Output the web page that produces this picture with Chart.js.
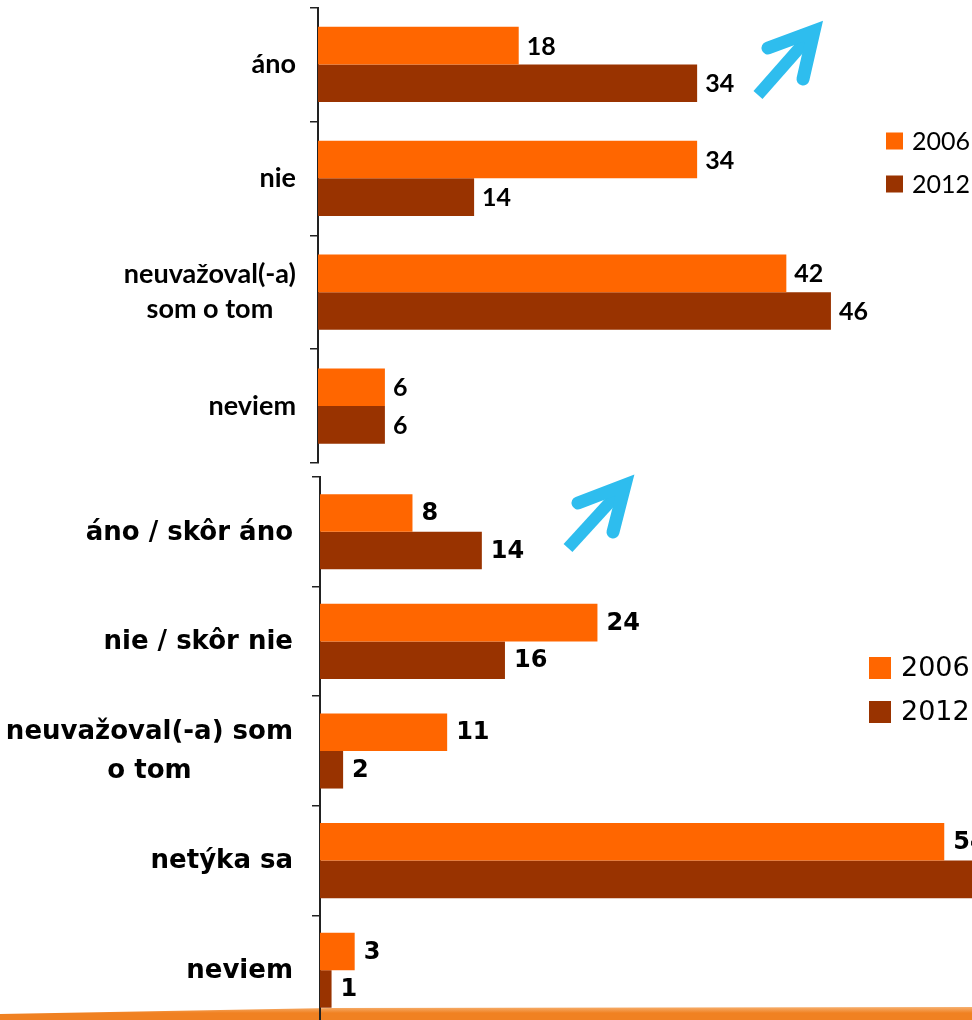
<!DOCTYPE html>
<html><head><meta charset="utf-8">
<script src="https://cdn.jsdelivr.net/npm/chart.js@4"></script>
<style>
html,body{margin:0;padding:0;background:#fff;}
#wrap{position:relative;width:972px;height:1020px;overflow:hidden;background:#fff;}
#c1{position:absolute;left:0;top:0;}
#c2{position:absolute;left:0;top:470px;}
</style></head><body>
<div id="wrap">
  <canvas id="c1" width="972" height="470"></canvas>
  <canvas id="c2" width="972" height="560"></canvas>
</div>
<script>
/* ===== data ===== */
const SERIES=["2006","2012"];
const topCats=[["áno"],["nie"],["neuvažoval(-a)","som o tom"],["neviem"]];
const top2006=[18,34,42,6];
const top2012=[34,14,46,6];
const botCats=[["áno / skôr áno"],["nie / skôr nie"],["neuvažoval(-a) som","o tom"],["netýka sa"],["neviem"]];
const bot2006=[8,24,11,54,3];
const bot2012=[14,16,2,67,1];

const ORANGE="#FF6600", BROWN="#993300", BLUE="#2EBDEE";

/* ===== plugins ===== */
const deco={
  id:"deco",
  beforeDraw(ch,a,o){
    if(!o.swoosh) return;
    const c=ch.ctx, s=o.swoosh; c.save();
    c.beginPath(); c.moveTo(0,s.y+7); c.lineTo(330,s.y+1); c.lineTo(972,s.y);
    c.lineTo(972,s.y+30); c.lineTo(0,s.y+30); c.closePath();
    const g=c.createLinearGradient(0,s.y,0,s.y+6); g.addColorStop(0,"#F6B070"); g.addColorStop(1,"#F08122");
    c.fillStyle=g; c.fill(); c.restore();
  },
  afterDraw(ch,a,o){
    const c=ch.ctx, y=ch.scales.y;
    // category labels: block right aligned, lines centred within the block
    c.save(); c.fillStyle="#000"; c.font=o.catFont; c.textBaseline="middle";
    ch.data.labels.forEach((lines,i)=>{
      const w=Math.max(...lines.map(l=>c.measureText(l).width));
      const cy=y.getPixelForValue(i)+o.catDy, y0=cy-(lines.length-1)*o.lineH/2;
      c.textAlign="center";
      lines.forEach((l,k)=>c.fillText(l,o.catRight-w/2,y0+k*o.lineH));
    });
    // legend
    c.font=o.legFont; c.textAlign="left";
    ch.data.datasets.forEach((d,i)=>{
      const L=o.legend, cy=L.y+i*L.gap;
      c.fillStyle=d.backgroundColor; c.fillRect(L.x,cy-L.box/2,L.box,L.box);
      c.fillStyle="#000"; c.fillText(d.label,L.x+L.box+L.pad,cy+1);
    });
    // arrow
    const A=o.arrow;
    if(A){
      c.strokeStyle=BLUE; c.lineWidth=12;
      c.lineCap="butt"; c.beginPath(); c.moveTo(A.base[0],A.base[1]); c.lineTo(A.tip[0]-8,A.tip[1]+9); c.stroke();
      c.lineWidth=13; c.lineCap="round"; c.lineJoin="miter"; c.beginPath();
      c.moveTo(A.arm1[0],A.arm1[1]); c.lineTo(A.tip[0]-4,A.tip[1]+4); c.lineTo(A.arm2[0],A.arm2[1]); c.stroke();
    }
    c.restore();
  },
  afterDatasetsDraw(ch,a,o){
    const c=ch.ctx; c.save(); c.fillStyle="#000"; c.font=o.valFont;
    c.textAlign="left"; c.textBaseline="middle";
    ch.data.datasets.forEach((d,i)=>{
      ch.getDatasetMeta(i).data.forEach((el,j)=>c.fillText(String(d.data[j]),el.x+o.gap,el.y+1));
    });
    c.restore();
  }
};

function makeChart(id,cats,a,b,o){
  return new Chart(document.getElementById(id),{
    type:"bar",
    data:{labels:cats,datasets:[
      {label:SERIES[0],data:a,backgroundColor:ORANGE},
      {label:SERIES[1],data:b,backgroundColor:BROWN}
    ]},
    options:{
      indexAxis:"y",responsive:false,animation:false,
      categoryPercentage:o.catPct,barPercentage:1,
      layout:{padding:{top:o.padTop,bottom:o.padBot,left:0,right:0}},
      plugins:{legend:{display:false},tooltip:{enabled:false},deco:o.deco},
      scales:{
        x:{display:false,min:0,max:o.xmax},
        y:{
          afterFit(s){ s.width=o.axisX; },
          ticks:{display:false},
          grid:{drawOnChartArea:false,drawTicks:true,tickLength:8,color:"#222",lineWidth:1.5},
          border:{display:true,color:"#222",width:2}
        }
      }
    },
    plugins:[deco]
  });
}

/* ===== top chart ===== */
makeChart("c1",topCats,top2006,top2012,{
  catPct:0.66,padTop:7.5,padBot:7,xmax:58.65,axisX:318,
  deco:{
    catFont:"bold 27px Lato",catRight:296,lineH:35,catDy:0,
    valFont:"bold 25px Lato",gap:8,
    legFont:"25px Lato",legend:{x:886,y:141,gap:43,box:17,pad:9},
    arrow:{tip:[818,27],arm1:[768,48],arm2:[803,79],base:[758,95]}
  }
});

/* ===== bottom chart ===== */
makeChart("c2",botCats,bot2006,bot2012,{
  catPct:0.685,padTop:7,padBot:5,xmax:56.4,axisX:320,
  deco:{
    catFont:"bold 26px 'DejaVu Sans'",catRight:293,lineH:39,catDy:1,
    valFont:"bold 24px 'DejaVu Sans'",gap:9,
    legFont:"27px 'DejaVu Sans'",legend:{x:869,y:198,gap:44,box:22,pad:10},
    arrow:{tip:[629,11],arm1:[578,33],arm2:[613,62],base:[568,78]},
    swoosh:{y:537}
  }
});
</script>
</body></html>
